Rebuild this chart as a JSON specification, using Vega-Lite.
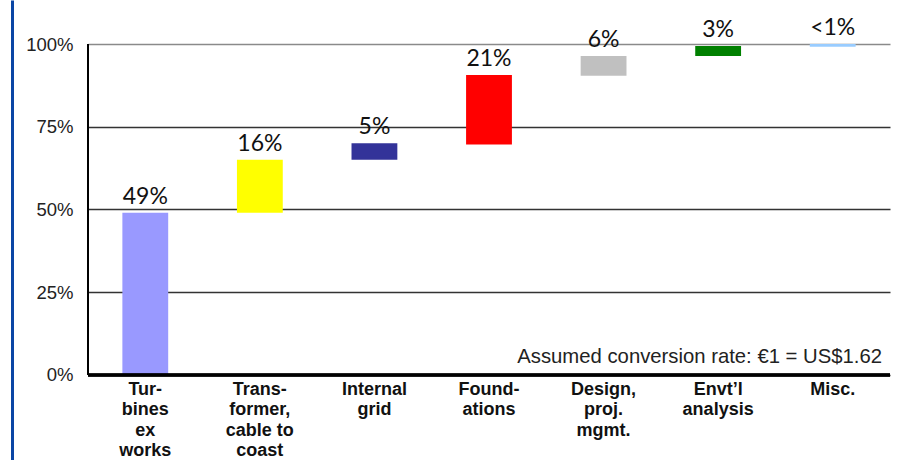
{
  "$schema": "https://vega.github.io/schema/vega-lite/v6.json",
  "width": 802,
  "height": 460,
  "autosize": {"type": "none"},
  "padding": {"left": 88, "top": 0, "right": 10, "bottom": 0},
  "background": "white",
  "config": {"view": {"stroke": null}},
  "data": {
    "values": [
      {"cost": "Tur-\nbines\nex\nworks", "start": 0, "end": 49, "label": "49%"},
      {"cost": "Trans-\nformer,\ncable to\ncoast", "start": 49, "end": 65, "label": "16%"},
      {"cost": "Internal\ngrid", "start": 65, "end": 70, "label": "5%"},
      {"cost": "Found-\nations", "start": 69.6, "end": 90.6, "label": "21%"},
      {"cost": "Design,\nproj.\nmgmt.", "start": 90.4, "end": 96.4, "label": "6%"},
      {"cost": "Envt’l\nanalysis", "start": 96.4, "end": 99.4, "label": "3%"},
      {"cost": "Misc.", "start": 99.2, "end": 100, "label": "<1%"}
    ]
  },
  "resolve": {"scale": {"x": "independent"}, "axis": {"y": "independent"}},
  "layer": [
    {
      "layer": [
        {
          "mark": {"type": "bar"},
          "encoding": {
            "x": {
              "field": "cost",
              "type": "nominal",
              "sort": null,
              "scale": {"paddingInner": 0.6, "paddingOuter": 0.3},
              "axis": null
            },
            "y": {
              "field": "start",
              "type": "quantitative",
              "scale": {"domain": [-25.7, 113.3], "nice": false, "zero": false},
              "axis": {
                "values": [0, 25, 50, 75, 100],
                "domain": false,
                "ticks": false,
                "grid": true,
                "gridColor": {"condition": {"test": "datum.value === 100", "value": "#8a8a8a"}, "value": "#333333"},
                "gridWidth": 1.5,
                "labelExpr": "datum.value + '%'",
                "labelFont": "Liberation Sans",
                "labelFontSize": 18.5,
                "labelColor": "#222222",
                "labelPadding": 15,
                "title": null
              }
            },
            "y2": {"field": "end"},
            "color": {
              "field": "cost",
              "type": "nominal",
              "sort": null,
              "scale": {
                "domain": ["Tur-\nbines\nex\nworks", "Trans-\nformer,\ncable to\ncoast", "Internal\ngrid", "Found-\nations", "Design,\nproj.\nmgmt.", "Envt’l\nanalysis", "Misc."],
                "range": ["#9999ff", "#ffff00", "#333399", "#ff0000", "#c0c0c0", "#008000", "#99ccff"]
              },
              "legend": null
            }
          }
        },
        {
          "mark": {"type": "text", "font": "Lato", "fontSize": 23, "baseline": "alphabetic", "dy": -9, "color": "#111111"},
          "encoding": {
            "x": {"field": "cost", "type": "nominal", "sort": null},
            "y": {"field": "end", "type": "quantitative", "title": null},
            "text": {"field": "label"}
          }
        },
        {
          "mark": {"type": "text", "font": "Liberation Sans", "fontWeight": "bold", "fontSize": 18, "lineHeight": 20.5, "lineBreak": "\n", "baseline": "top", "align": "center", "dy": 6, "color": "#111111"},
          "encoding": {
            "x": {"field": "cost", "type": "nominal", "sort": null},
            "y": {"datum": 0},
            "text": {"field": "cost"}
          }
        },
        {
          "mark": {"type": "rule", "color": "#000000", "strokeWidth": 2.5},
          "encoding": {"y": {"datum": 0}}
        }
      ]
    },
    {
      "data": {"values": [{"note": "Assumed conversion rate: €1 = US$1.62"}]},
      "layer": [
        {
          "mark": {"type": "rule", "color": "#000000", "strokeWidth": 2},
          "encoding": {
            "x": {"datum": 0, "type": "quantitative", "scale": {"domain": [0, 1]}, "axis": null},
            "y": {
              "datum": 0,
              "type": "quantitative",
              "axis": {
                "orient": "left",
                "offset": 76,
                "domain": true,
                "domainColor": "#0a46a5",
                "domainWidth": 3,
                "labels": false,
                "ticks": false,
                "grid": false,
                "title": null
              }
            },
            "y2": {"datum": 100}
          }
        },
        {
          "mark": {"type": "text", "font": "Liberation Sans", "fontWeight": "normal", "fontSize": 20.3, "align": "right", "baseline": "alphabetic", "dx": -8, "dy": -12, "color": "#222222"},
          "encoding": {
            "x": {"datum": 1, "type": "quantitative"},
            "y": {"datum": 0, "type": "quantitative"},
            "text": {"field": "note"}
          }
        }
      ]
    }
  ]
}
